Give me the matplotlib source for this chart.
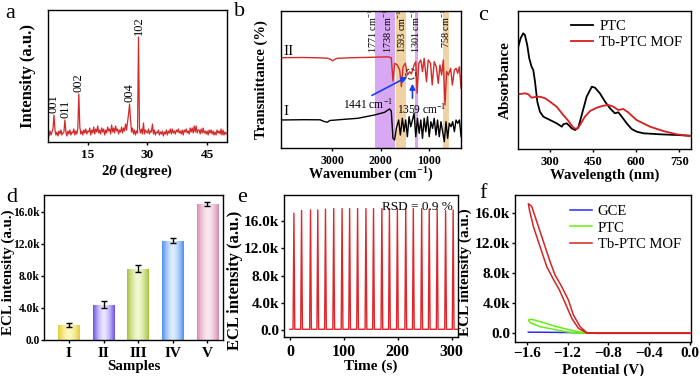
import numpy as np
import matplotlib
matplotlib.use('Agg')
import matplotlib.pyplot as plt
from matplotlib.ticker import FuncFormatter

plt.rcParams['font.family'] = ['Liberation Serif', 'DejaVu Serif']
plt.rcParams['mathtext.fontset'] = 'custom'
plt.rcParams['mathtext.rm'] = 'Liberation Serif'
plt.rcParams['mathtext.it'] = 'Liberation Serif:italic:bold'
plt.rcParams['mathtext.bf'] = 'Liberation Serif:bold'
plt.rcParams['axes.linewidth'] = 1.0
plt.rcParams['xtick.major.size'] = 2.5
plt.rcParams['ytick.major.size'] = 2.5
plt.rcParams['xtick.major.width'] = 1
plt.rcParams['ytick.major.width'] = 1
plt.rcParams['ytick.major.pad'] = 0.8
plt.rcParams['xtick.major.pad'] = 2.5

# ---------------- data ----------------
# (a) XRD, 2theta grid 5..50 step 0.25
xrd_2theta_start, xrd_2theta_step = 5.0, 0.25
xrd_intensity = [
    9, 6, 11, 7,   10, 13, 27, 12,   7, 10, 6, 11,   8, 12, 7, 9,
    10, 22, 10, 6,  11, 8, 12, 7,    10, 9, 13, 7,   11, 8, 14, 48,
    15, 8, 11, 7,   12, 9, 13, 8,    11, 10, 14, 7,  12, 9, 15, 8,
    13, 10, 16, 9,  12, 8, 14, 10,   13, 7, 12, 9,   15, 11, 13, 8,
    17, 10, 14, 9,  16, 11, 13, 8,   12, 10, 15, 9,  14, 11, 18, 12,
    20, 28, 38, 22, 10, 14, 8, 12,   7, 11, 9, 105,  14, 9, 13, 8,
    19, 8, 12, 10,  9, 13, 8, 11,    10, 18, 8, 12,  7, 10, 9, 12,
    7, 10, 8, 11,   6, 10, 8, 12,    7, 11, 9, 13,   8, 13, 9, 11,
    8, 12, 10, 13,  9, 11, 8, 12,    7, 12, 10, 13,  9, 11, 8, 14,
    10, 14, 9, 16,  10, 16, 9, 12,   12, 8, 13, 9,   14, 9, 11, 8,
    11, 7, 12, 9,   12, 8, 11, 7,    10, 7, 12, 9,   11, 8, 13, 7,
    12, 7, 10, 8,   9]
xrd_peak_2theta = [6.5, 9.25, 12.75, 25.5, 27.75]
xrd_peak_labels = ['001', '011', '002', '004', '102']
xrd_label_2theta = [6.3, 9.5, 12.75, 25.5, 27.75]

# (b) FTIR
ftir_wn_II = [4060, 3600, 3300, 3100, 3040, 2993, 2950, 2900, 2500, 2100, 1850, 1778,
              1743, 1708, 1652, 1604, 1569, 1535, 1486, 1444, 1396, 1361, 1306, 1271,
              1243, 1208, 1167, 1132, 1097, 1049, 1014, 965, 931, 889, 847, 806, 771,
              736, 701, 667, 632, 597, 549, 514, 472, 437, 403, 368, 333]
ftir_T_II = [90.3, 90.5, 90.2, 89.8, 88.8, 87.2, 88.6, 89.7, 90.4, 90.8, 91.2, 90.3,
             67, 84.7, 83, 78, 61.3, 81.3, 84.7, 73, 76.3, 74, 83, 86.3,
             54.7, 84.7, 88, 76.3, 89.7, 66.3, 88, 84.7, 63, 86.3, 81.3, 64.7, 83,
             73, 88, 43, 76.3, 73, 79.7, 63, 78, 79.7, 74.7, 81.3, 59.7]
ftir_wn_I = [4060, 3600, 3250, 3167, 3100, 3050, 2800, 2472, 2125, 1917, 1813, 1778,
             1743, 1708, 1674, 1625, 1590, 1549, 1514, 1479, 1445, 1410, 1375, 1340,
             1306, 1271, 1236, 1201, 1167, 1132, 1097, 1063, 1028, 993, 958, 924, 889,
             854, 820, 785, 750, 715, 681, 646, 611, 577, 542, 507, 472, 438, 403, 368, 333]
ftir_T_I = [28, 28.3, 28.2, 26.5, 25.8, 27.5, 28.5, 29.7, 33, 35.7, 39, 37,
            9.7, 8, 19.7, 28, 13, 29.7, 16.3, 28, 11.3, 31.3, 21.3, 28,
            34.7, 11.3, 29.7, 14.7, 28, 9.7, 29.7, 16.3, 31.3, 11.3, 26.3, 19.7, 29.7,
            13, 28, 11.3, 26.3, 16.3, 6.3, 26.3, 9.7, 24.7, 21.3, 26.3, 16.3, 28, 24.7, 28, 11.3]
ftir_bands = [(2111, 1708), (1674, 1479), (1292, 1222), (701, 583)]
ftir_band_kind = ['purple', 'tan', 'purple', 'tan']
ftir_band_label_wn = [2170, 1850, 1565, 1262, 650]
ftir_band_labels = ['1771 cm$^{-1}$', '1738 cm$^{-1}$', '1593 cm$^{-1}$', '1301 cm$^{-1}$', '758 cm$^{-1}$']

# (c) UV-vis
uv_wl_ptc = [191, 199, 208, 214, 222, 229, 237, 243, 249, 257, 266, 278, 301, 324, 342, 347,
             359, 368, 376, 388, 399, 411, 428, 446, 457, 474, 492, 509, 526, 538, 550,
             567, 584, 602, 625, 682, 740, 786]
uv_abs_ptc = [102.3, 110.7, 115.7, 114, 104, 90.7, 82.3, 79, 67.3, 47.3, 37.3, 32.3, 29, 25.7,
              22.3, 24.7, 25.7, 23.3, 20.7, 19, 21.3, 34, 52.3, 62.3, 61.3, 55.7, 47.3, 40.7,
              35.7, 36.7, 32.3, 25.7, 20, 17.3, 15.7, 14.7, 14, 13.3]
uv_wl_mof = [191, 214, 226, 237, 249, 266, 284, 301, 324, 347, 365, 382, 393, 405, 422, 440,
             463, 486, 503, 521, 538, 555, 572, 601, 648, 694, 740, 786]
uv_abs_mof = [54.7, 55.7, 54.7, 51.3, 52, 52.3, 50.7, 47.3, 42.3, 34, 28, 21.3, 20, 24, 32.3,
              38, 41.3, 43.3, 44, 42.3, 39, 40, 36.7, 29, 22.3, 18, 14.7, 13]

# (d) ECL bars
samples = ['I', 'II', 'III', 'IV', 'V']
ecl_mean = [1880, 4420, 8920, 12420, 16920]
ecl_err = [300, 450, 450, 300, 250]

# (e) ECL stability
ecl_peak_time = [7.4, 21.6, 38.2, 51.7, 66.0, 81.3, 96.8, 110.8, 125.6, 141.1, 155.2,
                 170.7, 184.7, 199.5, 215.0, 229.1, 244.6, 258.6, 273.4, 289.0, 303.0]
ecl_peak_height = [17200, 17600, 17700, 17700, 17800, 17900, 17900, 17900, 17900, 17900, 17900,
                   17900, 17900, 17900, 17900, 17900, 17900, 17800, 17800, 17600, 17700]
ecl_baseline = 60
ecl_time_range = (0, 311)

# (f) ECL-potential
red_pot = [0.02, -0.914, -1.012, -1.077, -1.143, -1.192, -1.257, -1.323, -1.372, -1.437,
           -1.502, -1.551, -1.584, -1.574, -1.535, -1.470, -1.404, -1.345, -1.280, -1.215,
           -1.159, -1.094, -1.012, -0.914, 0.02]
red_ecl = [0, 0, 80, 880, 2440, 4440, 6210, 7770, 9550, 12210,
           14880, 16880, 17240, 16440, 14210, 11550, 8880, 7330, 5770, 3770,
           2000, 670, 20, 0, 0]
grn_pot = [-0.98, -1.045, -1.176, -1.307, -1.437, -1.551, -1.584, -1.567, -1.470, -1.339,
           -1.208, -1.078, -0.98]
grn_ecl = [0, 90, 440, 880, 1420, 1860, 1770, 1420, 880, 530, 180, 0, 0]
gce_pot = [-1.584, -1.3, -1.045, -0.914, 0.0]
gce_ecl = [150, 120, 60, 0, 0]

# ---------------- figure ----------------
fig = plt.figure(figsize=(7, 3.76), dpi=100)
W, H = 700, 376


def add_ax(x0, y0, x1, y1):
    return fig.add_axes([x0 / W, 1 - y1 / H, (x1 - x0) / W, (y1 - y0) / H])


def letter(x, y, s):
    fig.text(x / W, 1 - y / H, s, ha='center', va='center', fontsize=16)


RED = '#d42a2a'


def kfmt(v, pos):
    return '0.0' if abs(v) < 1e-9 else '%.1fk' % (v / 1000)


def style_ticks(ax, xsize, ysize=None):
    if ysize is None:
        ysize = xsize
    for lab in ax.get_xticklabels():
        lab.set_fontweight('bold')
        lab.set_fontsize(xsize)
    for lab in ax.get_yticklabels():
        lab.set_fontweight('bold')
        lab.set_fontsize(ysize)


def labels(ax, xl, xsize, xpos, yl, ysize, ypos, yc=0.5):
    ax.set_xlabel(xl, fontsize=xsize, fontweight='bold')
    ax.set_ylabel(yl, fontsize=ysize, fontweight='bold')
    ax.xaxis.set_label_coords(0.5, xpos)
    ax.xaxis.label.set_va('center')
    ax.yaxis.set_label_coords(ypos, yc)
    ax.yaxis.label.set_va('center')


# (a)
ax = add_ax(48, 10, 227, 142)
xrd_x = xrd_2theta_start + xrd_2theta_step * np.arange(len(xrd_intensity))
ax.plot(xrd_x, xrd_intensity, color=RED, lw=0.9)
for p, lp, lab in zip(xrd_peak_2theta, xrd_label_2theta, xrd_peak_labels):
    yv = np.interp(p, xrd_x, xrd_intensity)
    ax.text(lp, yv + 2, lab, rotation=90, ha='center', va='bottom', fontsize=9)
ax.set_xlim(5, 50)
ax.set_ylim(0, 132)
ax.set_xticks([15, 30, 45])
ax.set_yticks([])
labels(ax, r'2$\it{\theta}$ (degree)', 10.7, -0.225, 'Intensity (a.u.)', 12, -0.11)
style_ticks(ax, 9.5)
letter(10, 13, 'a')

# (b)
ax = add_ax(281, 11, 461, 148)
band_col = {'purple': '#d9a8f2', 'tan': '#f1d2a4'}
for (hi, lo), kind in zip(ftir_bands, ftir_band_kind):
    ax.axvspan(hi, lo, color=band_col[kind], lw=0, zorder=0)
ax.plot(ftir_wn_II, ftir_T_II, color=RED, lw=1.0, zorder=2)
ax.plot(ftir_wn_I, ftir_T_I, color='black', lw=1.0, zorder=2)
for wn, lab in zip(ftir_band_label_wn, ftir_band_labels):
    ax.text(wn, 139, lab, rotation=90, ha='center', va='top', fontsize=7.3, clip_on=True, zorder=3)
ax.scatter([1375], [74], s=55, facecolors='none', edgecolors='#333333', linestyles='--', lw=0.8, zorder=4)
ax.annotate('', xy=(1396, 72.3), xytext=(2229, 51.3),
            arrowprops=dict(arrowstyle='-|>', color='#1a3cff', lw=1.2, mutation_scale=8), zorder=4)
ax.annotate('', xy=(1340, 67), xytext=(1340, 47),
            arrowprops=dict(arrowstyle='-|>', color='#1a3cff', lw=1.2, mutation_scale=8), zorder=4)
ax.text(2264, 43.2, '1441 cm$^{-1}$', ha='center', va='center', fontsize=8.3)
ax.text(1146, 38.5, '1359 cm$^{-1}$', ha='center', va='center', fontsize=8.3)
ax.text(3896, 96.3, 'II', ha='center', va='center', fontsize=11)
ax.text(3965, 36.3, 'I', ha='center', va='center', fontsize=11)
ax.set_xlim(4060, 335)
ax.set_ylim(0, 137)
ax.set_xticks([3000, 2000, 1000])
ax.set_yticks([])
labels(ax, 'Wavenumber (cm$^{\\mathbf{-1}}$)', 10.2, -0.197, 'Transmittance (%)', 10.5, -0.107)
style_ticks(ax, 8.5)
letter(240, 12, 'b')

# (c)
ax = add_ax(518, 11, 691, 149)
ax.plot(uv_wl_ptc, uv_abs_ptc, color='black', lw=1.3, label='PTC')
ax.plot(uv_wl_mof, uv_abs_mof, color='#d81e1e', lw=1.3, label='Tb-PTC MOF')
ax.set_xlim(190, 790)
ax.set_ylim(0, 138)
ax.set_xticks([300, 450, 600, 750])
ax.set_yticks([])
labels(ax, 'Wavelength (nm)', 10.7, -0.188, 'Absorbance', 11, -0.075)
style_ticks(ax, 9)
ax.legend(loc='upper right', frameon=False, fontsize=10.5, handlelength=1.5,
          handletextpad=0.4, borderaxespad=0.2, labelspacing=0.2)
letter(483, 15, 'c')

# (d)
ax = add_ax(44, 195, 223, 340)
edge_cols = ['#e3cc32', '#6a4fe6', '#a4c43a', '#4f8fea', '#d58cad']
center_cols = ['#fff7c0', '#ece6ff', '#f1f8d2', '#dcedff', '#fbe9f1']
xpos = np.arange(len(samples))
bars = ax.bar(xpos, ecl_mean, width=0.62, color=edge_cols, zorder=2)
u = np.linspace(0, 1, 80)
t = np.abs(2 * u - 1) ** 1.6
for b, ce, cc in zip(bars, edge_cols, center_cols):
    ce = np.array(matplotlib.colors.to_rgb(ce))
    cc = np.array(matplotlib.colors.to_rgb(cc))
    grad = (1 - t)[:, None] * cc + t[:, None] * ce
    im = ax.imshow(grad[None, :, :], extent=[b.get_x(), b.get_x() + b.get_width(), 0, b.get_height()],
                   aspect='auto', zorder=2.1, interpolation='bilinear')
    im.set_clip_path(b)
ax.errorbar(xpos, ecl_mean, yerr=ecl_err, fmt='none', ecolor='black', elinewidth=1,
            capsize=2.5, capthick=1, zorder=3)
ax.set_xlim(-0.72, 4.45)
ax.set_ylim(0, 18100)
ax.set_xticks(xpos)
ax.set_xticklabels(samples)
ax.set_yticks([0, 4000, 8000, 12000, 16000])
ax.yaxis.set_major_formatter(FuncFormatter(kfmt))
ax.tick_params(axis='y', pad=0.5)
labels(ax, 'Samples', 10.8, -0.184, 'ECL intensity (a.u.)', 10.8, -0.199, 0.47)
style_ticks(ax, 11, 8.3)
letter(12, 197, 'd')

# (e)
ax = add_ax(284, 195, 458, 337)
tt = [ecl_time_range[0]]
yy = [ecl_baseline]
for tp, hp in zip(ecl_peak_time, ecl_peak_height):
    tt += [tp - 1.6, tp, tp + 1.6]
    yy += [ecl_baseline, hp, ecl_baseline]
tt.append(ecl_time_range[1])
yy.append(ecl_baseline)
ax.plot(tt, yy, color='#e0262b', lw=1.0)
ax.text(0.97, 0.955, 'RSD = 0.9 %', transform=ax.transAxes, ha='right', va='top', fontsize=9.5)
ax.set_xlim(-11, 312)
ax.set_ylim(-1080, 19900)
ax.set_xticks([0, 100, 200, 300])
ax.set_yticks([0, 4000, 8000, 12000, 16000])
ax.yaxis.set_major_formatter(FuncFormatter(kfmt))
labels(ax, 'Time (s)', 11, -0.209, 'ECL intensity (a.u.)', 12, -0.28, 0.40)
style_ticks(ax, 11.5, 11)
letter(242, 197, 'e')

# (f)
ax = add_ax(515, 195, 691, 342)
ax.plot(gce_pot, gce_ecl, color='#2a2aff', lw=1.1, label='GCE', zorder=2)
ax.plot(grn_pot, grn_ecl, color='#66ee11', lw=1.1, label='PTC', zorder=3)
ax.plot(red_pot, red_ecl, color='#d42424', lw=1.1, label='Tb-PTC MOF', zorder=4)
ax.set_xlim(-1.715, 0.01)
ax.set_ylim(-1160, 18400)
ax.set_xticks([-1.6, -1.2, -0.8, -0.4, 0.0])
ax.set_yticks([0, 4000, 8000, 12000, 16000])
ax.yaxis.set_major_formatter(FuncFormatter(kfmt))
ax.tick_params(axis='x', pad=1.2)
labels(ax, 'Potential (V)', 10.8, -0.19, 'ECL intensity (a.u.)', 11, -0.28, 0.473)
style_ticks(ax, 11, 11)
ax.legend(loc='upper right', frameon=False, fontsize=10.5, handlelength=1.5,
          handletextpad=0.4, borderaxespad=0.3, labelspacing=0.2)
letter(483, 193, 'f')

fig.savefig('out.png', dpi=100)
